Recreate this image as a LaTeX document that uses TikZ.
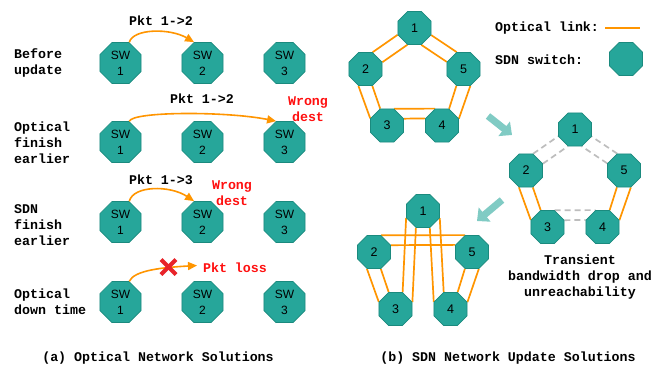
\documentclass[tikz,border=0pt]{standalone}
\usepackage{fontspec}
\setmainfont{Liberation Sans}
\newfontfamily\monofam{Liberation Mono}
\usetikzlibrary{shapes.geometric,arrows.meta,calc}
\definecolor{swteal}{HTML}{26A69A}
\definecolor{swborder}{HTML}{1B8A7E}
\definecolor{optorange}{HTML}{FF9500}
\definecolor{arrteal}{HTML}{80CBC4}
\definecolor{dashgrey}{HTML}{BDBDBD}
\definecolor{warnred}{HTML}{FF1010}
\definecolor{xred}{HTML}{E8242A}
\pgfdeclarelayer{bg}
\pgfsetlayers{bg,main}
\tikzset{
  swnode/.style={regular polygon, regular polygon sides=8, minimum size=44.4pt, inner sep=0pt,
    fill=swteal, draw=swborder, line width=0.7pt, align=center,
    font=\fontsize{12}{16}\selectfont},
  tnode/.style={regular polygon, regular polygon sides=8, minimum size=35.8pt, inner sep=0pt,
    fill=swteal, draw=swborder, line width=0.7pt, font=\fontsize{12.5}{14}\selectfont},
  lbl/.style={font=\monofam\bfseries\fontsize{13.3}{16}\selectfont, inner sep=0pt},
  rowlbl/.style={lbl, anchor=west, align=left},
  redlbl/.style={lbl, text=warnred, align=center},
  pktarrow/.style={draw=optorange, line width=1.6pt, -{Triangle[length=9pt,width=8pt]}},
  optlink/.style={draw=optorange, line width=1.7pt},
  downlink/.style={draw=dashgrey, line width=1.7pt, dash pattern=on 6pt off 4pt},
  bigarrow/.style={draw=arrteal, line width=7pt, -{Triangle[length=10pt,width=18pt]}},
  redx/.style={draw=xred, line width=4pt}
}
\begin{document}
\begin{tikzpicture}[x=1pt,y=-1pt]
\useasboundingbox (0,0) rectangle (663,367);
\begin{pgfonlayer}{bg}
\fill[white] (0,0) rectangle (663,367);
\end{pgfonlayer}

% ---------- (a) left panel ----------
\node[rowlbl] (r1) at (14,63) {Before\\update};
\node[rowlbl] (r2) at (14,143) {Optical\\finish\\earlier};
\node[rowlbl] (r3) at (14,225) {SDN\\finish\\earlier};
\node[rowlbl] (r4) at (14,301.5) {Optical\\down time};

\foreach \r/\y in {1/63,2/142,3/222,4/302}{
  \node[swnode] (s\r1) at (120.5,\y) {SW\\1};
  \node[swnode] (s\r2) at (202.5,\y) {SW\\2};
  \node[swnode] (s\r3) at (284.5,\y) {SW\\3};
}

% row 1
\node[lbl] (p1) at (161,21) {Pkt 1->2};
\draw[pktarrow] (s11.67.5) .. controls ($(s11.67.5)+(4,-14)$) and ($(s12.112.5)+(-24,-14)$) .. (s12.112.5);
% row 2
\node[lbl] (p2) at (202,99) {Pkt 1->2};
\node[redlbl] (w2) at (308,109) {Wrong\\dest};
\draw[pktarrow] (s21.67.5) .. controls ($(s21.67.5)+(3,-10)$) and ($(s23.112.5)+(-50,-10)$) .. (s23.112.5);
% row 3
\node[lbl] (p3) at (161,180) {Pkt 1->3};
\node[redlbl] (w3) at (232,193) {Wrong\\dest};
\draw[pktarrow] (s31.67.5) .. controls ($(s31.67.5)+(4,-16)$) and ($(s32.112.5)+(-24,-16)$) .. (s32.112.5);
% row 4
\coordinate (lossend) at (197,265.5);
\node[redlbl] (pl) at (235,268) {Pkt loss};
\draw[pktarrow] (s41.67.5) .. controls ($(s41.67.5)+(5,-11)$) and ($(lossend)+(-35,2)$) .. (lossend);
\coordinate (xc) at (168.5,267);
\draw[redx] ($(xc)+(-7.5,-7.5)$) -- ($(xc)+(7.5,7.5)$);
\draw[redx] ($(xc)+(-7.5,7.5)$) -- ($(xc)+(7.5,-7.5)$);

\node[lbl] (capa) at (158,358) {(a) Optical Network Solutions};

% ---------- (b) right panel ----------
% legend
\node[lbl, anchor=west] (leg1) at (495,28) {Optical link:};
\coordinate (lg1) at (605,28);
\coordinate (lg2) at (640,28);
\draw[optlink] (lg1) -- (lg2);
\node[lbl, anchor=west] (leg2) at (495,60) {SDN switch:};
\node[tnode] (legsw) at (626,59) {};

% top topology
\node[tnode] (t1) at (414.5,28) {1};
\node[tnode] (t2) at (365.5,69) {2};
\node[tnode] (t5) at (463.5,69) {5};
\node[tnode] (t3) at (387,125.5) {3};
\node[tnode] (t4) at (442,125.5) {4};
\begin{pgfonlayer}{bg}
\draw[optlink] (t2.67.5) -- (t1.202.5);
\draw[optlink] (t2.22.5) -- (t1.247.5);
\draw[optlink] (t5.112.5) -- (t1.337.5);
\draw[optlink] (t5.157.5) -- (t1.292.5);
\draw[optlink] (t2.247.5) -- (t3.157.5);
\draw[optlink] (t2.292.5) -- (t3.112.5);
\draw[optlink] (t5.292.5) -- (t4.22.5);
\draw[optlink] (t5.247.5) -- (t4.67.5);
\draw[optlink] (t3.67.5) -- (t4.112.5);
\draw[optlink] (t3.22.5) -- (t4.157.5);
\end{pgfonlayer}

% middle topology
\node[tnode] (m1) at (575,129.5) {1};
\node[tnode] (m2) at (526,170.5) {2};
\node[tnode] (m5) at (624,170.5) {5};
\node[tnode] (m3) at (547.5,227) {3};
\node[tnode] (m4) at (602.5,227) {4};
\begin{pgfonlayer}{bg}
\draw[downlink] (m2.67.5) -- (m1.202.5);
\draw[downlink] (m2.22.5) -- (m1.247.5);
\draw[downlink] (m5.112.5) -- (m1.337.5);
\draw[downlink] (m5.157.5) -- (m1.292.5);
\draw[optlink] (m2.247.5) -- (m3.157.5);
\draw[optlink] (m2.292.5) -- (m3.112.5);
\draw[optlink] (m5.292.5) -- (m4.22.5);
\draw[optlink] (m5.247.5) -- (m4.67.5);
\draw[downlink] (m3.67.5) -- (m4.112.5);
\draw[downlink] (m3.22.5) -- (m4.157.5);
\end{pgfonlayer}
\node[lbl, align=center] (trans) at (580,277) {Transient\\bandwidth drop and\\unreachability};

% bottom topology
\node[tnode] (b1) at (423,211) {1};
\node[tnode] (b2) at (374,252) {2};
\node[tnode] (b5) at (472,252) {5};
\node[tnode] (b3) at (395.5,309) {3};
\node[tnode] (b4) at (450.5,309) {4};
\begin{pgfonlayer}{bg}
\draw[optlink] (b2.247.5) -- (b3.157.5);
\draw[optlink] (b2.292.5) -- (b3.112.5);
\draw[optlink] (b5.292.5) -- (b4.22.5);
\draw[optlink] (b5.247.5) -- (b4.67.5);
\draw[optlink] (b2.67.5) -- (b5.112.5);
\draw[optlink] (b2.22.5) -- (b5.157.5);
\draw[optlink] (b1.202.5) -- (b3.67.5);
\draw[optlink] (b1.247.5) -- (b3.22.5);
\draw[optlink] (b1.337.5) -- (b4.112.5);
\draw[optlink] (b1.292.5) -- (b4.157.5);
\end{pgfonlayer}

% transition arrows
\coordinate (a1s) at (488,116);
\coordinate (a1e) at (512,135);
\draw[bigarrow] (a1s) -- (a1e);
\coordinate (a2s) at (502,200);
\coordinate (a2e) at (477,221);
\draw[bigarrow] (a2s) -- (a2e);

\node[lbl] (capb) at (508,358) {(b) SDN Network Update Solutions};
\end{tikzpicture}
\end{document}
